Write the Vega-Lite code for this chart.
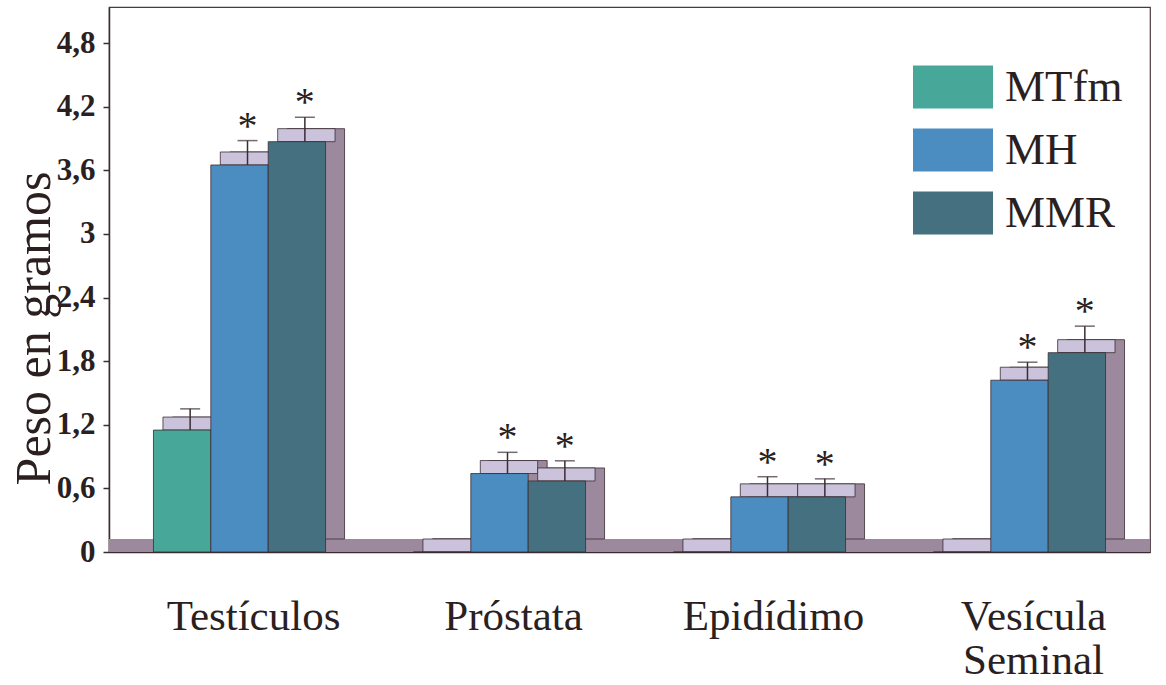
{
  "$schema": "https://vega.github.io/schema/vega-lite/v6.json",
  "width": 1041,
  "height": 545,
  "autosize": {"type": "none"},
  "padding": {"left": 109, "top": 7, "right": 16, "bottom": 133},
  "background": "white",
  "config": {
    "font": "Liberation Serif",
    "view": {"stroke": "#4a3a40", "strokeWidth": 1.2},
    "axis": {"grid": false, "labelFont": "Liberation Serif", "titleFont": "Liberation Serif"},
    "axisX": {
      "labelAngle": 0, "labelFontSize": 43, "labelColor": "#2b1f1f",
      "labelPadding": 43, "labelBaseline": "top", "ticks": false,
      "domainColor": "#3a2c34", "domainWidth": 1.5, "labelOffset": 14,
      "labelLineHeight": 44, "labelLimit": 0,
      "labelExpr": "datum.value == 'Vesícula Seminal' ? ['Vesícula', 'Seminal'] : datum.label"
    },
    "axisY": {
      "labelFontSize": 31, "labelFontWeight": "bold", "labelColor": "#2b1f1f",
      "labelPadding": 8, "tickSize": 6, "tickColor": "#3a2c34", "tickWidth": 1.5,
      "domainColor": "#3a2c34", "domainWidth": 1.5,
      "titleFontSize": 50, "titleFontWeight": "normal", "titleColor": "#2b1f1f",
      "titleAngle": 270, "titleX": -60, "titleY": 321, "titleAlign": "center", "titleBaseline": "alphabetic"
    },
    "legend": {"labelFont": "Liberation Serif"}
  },
  "resolve": {"scale": {"xOffset": "independent"}},
  "data": {
    "values": [
      {"organ": "Testículos", "serie": "MTfm", "value": 1.15, "hi": 1.35},
      {"organ": "Testículos", "serie": "MH", "value": 3.65, "hi": 3.88, "sig": "*"},
      {"organ": "Testículos", "serie": "MMR", "value": 3.87, "hi": 4.1, "sig": "*"},
      {"organ": "Próstata", "serie": "MTfm", "value": 0},
      {"organ": "Próstata", "serie": "MH", "value": 0.74, "hi": 0.94, "sig": "*"},
      {"organ": "Próstata", "serie": "MMR", "value": 0.67, "hi": 0.86, "sig": "*"},
      {"organ": "Epidídimo", "serie": "MTfm", "value": 0},
      {"organ": "Epidídimo", "serie": "MH", "value": 0.52, "hi": 0.71, "sig": "*"},
      {"organ": "Epidídimo", "serie": "MMR", "value": 0.52, "hi": 0.69, "sig": "*"},
      {"organ": "Vesícula Seminal", "serie": "MTfm", "value": 0},
      {"organ": "Vesícula Seminal", "serie": "MH", "value": 1.62, "hi": 1.79, "sig": "*"},
      {"organ": "Vesícula Seminal", "serie": "MMR", "value": 1.88, "hi": 2.13, "sig": "*"}
    ]
  },
  "layer": [
    {
      "mark": {"type": "rule", "color": "#9d899d", "strokeWidth": 13, "yOffset": -6.5},
      "encoding": {"y": {"datum": 0, "type": "quantitative", "title": "Peso en gramos", "axis": {"values": [0, 0.6, 1.2, 1.8, 2.4, 3, 3.6, 4.2, 4.8], "labelExpr": "replace(format(datum.value, '~g'), '.', ',')"}}}
    },
    {
      "mark": {"type": "bar", "color": "#9d899d", "stroke": "#3a2c34", "strokeWidth": 0.8, "yOffset": -13, "y2Offset": -13},
      "encoding": {
        "x": {"field": "organ", "type": "nominal", "title": null, "sort": ["Testículos", "Próstata", "Epidídimo", "Vesícula Seminal"], "scale": {"paddingInner": 0.338, "paddingOuter": 0.171}},
        "xOffset": {"field": "serie", "type": "nominal", "scale": {"domain": ["MTfm", "MH", "MMR"], "range": [19, 191.1]}},
        "y": {"field": "value", "type": "quantitative", "title": "Peso en gramos", "scale": {"domain": [0, 5.14], "nice": false}, "axis": {"values": [0, 0.6, 1.2, 1.8, 2.4, 3, 3.6, 4.2, 4.8], "labelExpr": "replace(format(datum.value, '~g'), '.', ',')"}}
      }
    },
    {
      "mark": {"type": "bar", "color": "#cbc3dc", "stroke": "#3a2c34", "strokeWidth": 0.8, "y2Offset": -13},
      "encoding": {
        "x": {"field": "organ", "type": "nominal", "title": null, "sort": ["Testículos", "Próstata", "Epidídimo", "Vesícula Seminal"]},
        "xOffset": {"field": "serie", "type": "nominal", "scale": {"domain": ["MTfm", "MH", "MMR"], "range": [9.5, 181.6]}},
        "y": {"field": "value", "type": "quantitative", "title": "Peso en gramos", "axis": {"values": [0, 0.6, 1.2, 1.8, 2.4, 3, 3.6, 4.2, 4.8], "labelExpr": "replace(format(datum.value, '~g'), '.', ',')"}},
        "y2": {"field": "value"}
      }
    },
    {
      "mark": {"type": "bar", "stroke": "#3a2c34", "strokeWidth": 0.8},
      "encoding": {
        "x": {"field": "organ", "type": "nominal", "title": null, "sort": ["Testículos", "Próstata", "Epidídimo", "Vesícula Seminal"]},
        "xOffset": {"field": "serie", "type": "nominal", "scale": {"domain": ["MTfm", "MH", "MMR"], "range": [0, 172.1]}},
        "y": {"field": "value", "type": "quantitative", "title": "Peso en gramos", "axis": {"values": [0, 0.6, 1.2, 1.8, 2.4, 3, 3.6, 4.2, 4.8], "labelExpr": "replace(format(datum.value, '~g'), '.', ',')"}},
        "color": {
          "field": "serie", "type": "nominal",
          "scale": {"domain": ["MTfm", "MH", "MMR"], "range": ["#47a799", "#4b8dc0", "#44707f"]},
          "legend": {
            "title": null, "orient": "none", "legendX": 804, "legendY": 40,
            "symbolType": "M-1,-0.54H1V0.54H-1Z", "symbolSize": 6400, "symbolStrokeWidth": 0,
            "labelFontSize": 45, "labelColor": "#2b1f1f", "labelOffset": 12, "rowPadding": -2,
            "padding": 0, "labelFont": "Liberation Serif"
          }
        }
      }
    },
    {
      "transform": [{"filter": "isValid(datum.hi)"}],
      "mark": {"type": "rule", "color": "#3a2c34", "strokeWidth": 1.5},
      "encoding": {
        "x": {"field": "organ", "type": "nominal", "title": null, "sort": ["Testículos", "Próstata", "Epidídimo", "Vesícula Seminal"]},
        "xOffset": {"field": "serie", "type": "nominal", "scale": {"domain": ["MTfm", "MH", "MMR"], "range": [8, 180.1]}},
        "y": {"field": "value", "type": "quantitative", "title": "Peso en gramos", "axis": {"values": [0, 0.6, 1.2, 1.8, 2.4, 3, 3.6, 4.2, 4.8], "labelExpr": "replace(format(datum.value, '~g'), '.', ',')"}},
        "y2": {"field": "hi"}
      }
    },
    {
      "transform": [{"filter": "isValid(datum.hi)"}],
      "mark": {"type": "tick", "color": "#3a2c34", "thickness": 1.5, "size": 20},
      "encoding": {
        "x": {"field": "organ", "type": "nominal", "title": null, "sort": ["Testículos", "Próstata", "Epidídimo", "Vesícula Seminal"]},
        "xOffset": {"field": "serie", "type": "nominal", "scale": {"domain": ["MTfm", "MH", "MMR"], "range": [8, 180.1]}},
        "y": {"field": "hi", "type": "quantitative", "title": "Peso en gramos", "axis": {"values": [0, 0.6, 1.2, 1.8, 2.4, 3, 3.6, 4.2, 4.8], "labelExpr": "replace(format(datum.value, '~g'), '.', ',')"}}
      }
    },
    {
      "transform": [{"filter": "isValid(datum.sig)"}],
      "mark": {"type": "text", "color": "#2b1f1f", "fontSize": 40, "baseline": "alphabetic", "dy": -2, "font": "Liberation Serif"},
      "encoding": {
        "x": {"field": "organ", "type": "nominal", "title": null, "sort": ["Testículos", "Próstata", "Epidídimo", "Vesícula Seminal"]},
        "xOffset": {"field": "serie", "type": "nominal", "scale": {"domain": ["MTfm", "MH", "MMR"], "range": [8, 180.1]}},
        "y": {"field": "hi", "type": "quantitative", "title": "Peso en gramos", "axis": {"values": [0, 0.6, 1.2, 1.8, 2.4, 3, 3.6, 4.2, 4.8], "labelExpr": "replace(format(datum.value, '~g'), '.', ',')"}},
        "text": {"field": "sig"}
      }
    }
  ]
}
